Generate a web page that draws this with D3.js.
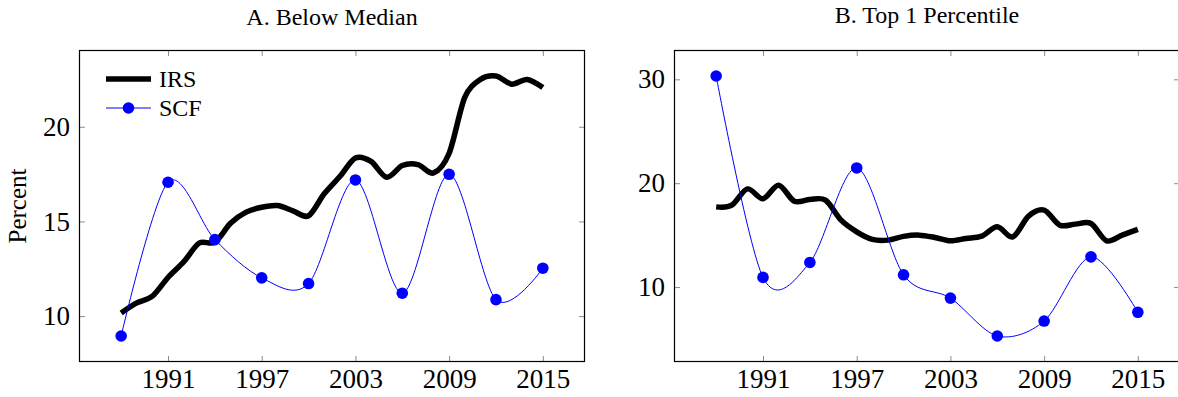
<!DOCTYPE html>
<html>
<head>
<meta charset="utf-8">
<script src="https://cdn.jsdelivr.net/npm/d3@7"></script>
<style>
  html, body { margin: 0; padding: 0; background: #fff; }
  svg { display: block; }
</style>
</head>
<body>
<svg id="chart" width="1178" height="397"></svg>
<script>
// Years covered by the IRS series (annual) and the SCF survey (triennial)
const irsYears = d3.range(1988, 2016);
const scfYears = [1988, 1991, 1994, 1997, 2000, 2003, 2006, 2009, 2012, 2015];

// Panel A: below-median share (percent)
const irsBelowMedian = [10.17, 10.7, 11.05, 12.04, 12.86, 13.86, 13.9, 14.9, 15.49, 15.75,
  15.84, 15.56, 15.3, 16.46, 17.37, 18.35, 18.17, 17.33, 17.95, 18.0,
  17.56, 18.6, 21.55, 22.5, 22.68, 22.25, 22.5, 22.07];
const scfBelowMedian = [8.95, 17.07, 14.04, 12.02, 11.72, 17.19, 11.21, 17.49, 10.87, 12.53];

// Panel B: top 1 percentile share (percent)
const irsTop1 = [17.72, 17.88, 19.45, 18.5, 19.8, 18.27, 18.43, 18.37, 16.44, 15.32,
  14.59, 14.52, 14.88, 15.0, 14.78, 14.45, 14.68, 14.9, 15.8, 14.84,
  16.83, 17.4, 15.96, 16.06, 16.12, 14.45, 15.0, 15.55];
const scfTop1 = [30.32, 10.93, 12.37, 21.47, 11.18, 8.94, 5.29, 6.73, 12.91, 7.57];

// Tick values
const xTicks = [1991, 1997, 2003, 2009, 2015];
const yTicksA = [10, 15, 20];
const yTicksB = [10, 20, 30];

const titles = ["A. Below Median", "B. Top 1 Percentile"];
const seriesNames = ["IRS", "SCF"];

const FONT = "'Liberation Serif', 'DejaVu Serif', 'Noto Serif', Tinos, 'Times New Roman', Times, serif";
const svg = d3.select("#chart");
const tickColor = "#8c8c8c";
const blue = "#0000ff";

// widen an extent by 10% of its span on each side
function enlarge(ext) {
  const pad = (ext[1] - ext[0]) * 0.1;
  return [ext[0] - pad, ext[1] + pad];
}

function drawPanel(cfg) {
  const { left, right, top, bottom, irs, scf, yTicks, title, titleY, ylabel, legend } = cfg;
  const g = svg.append("g");

  const x = d3.scaleLinear()
    .domain(enlarge(d3.extent(irsYears.concat(scfYears))))
    .range([left, right]);
  const y = d3.scaleLinear()
    .domain(enlarge(d3.extent(irs.concat(scf))))
    .range([bottom, top]);

  // Clip to plot area
  const clipId = "clip" + left;
  svg.append("clipPath").attr("id", clipId)
    .append("rect").attr("x", left).attr("y", top)
    .attr("width", right - left).attr("height", bottom - top);

  // Axes with inward ticks on all four sides
  const fontSize = 27;
  const bottomAxis = g.append("g").attr("transform", `translate(0,${bottom})`)
    .call(d3.axisBottom(x).tickValues(xTicks).tickFormat(d3.format("d")).tickSize(-6).tickPadding(7));
  const topAxis = g.append("g").attr("transform", `translate(0,${top})`)
    .call(d3.axisTop(x).tickValues(xTicks).tickFormat("").tickSize(-6));
  const leftAxis = g.append("g").attr("transform", `translate(${left},0)`)
    .call(d3.axisLeft(y).tickValues(yTicks).tickFormat(d3.format("d")).tickSize(-6).tickPadding(9));
  const rightAxis = g.append("g").attr("transform", `translate(${right},0)`)
    .call(d3.axisRight(y).tickValues(yTicks).tickFormat("").tickSize(-6));

  [bottomAxis, topAxis, leftAxis, rightAxis].forEach(a => {
    a.attr("font-family", null).style("font-family", FONT).attr("font-size", fontSize);
    a.select(".domain").remove();
    a.selectAll(".tick line").attr("stroke", tickColor).attr("stroke-width", 1);
    a.selectAll(".tick text").attr("fill", "#000").style("font-family", FONT);
  });

  // Frame
  g.append("rect")
    .attr("x", left + 0.5).attr("y", top + 0.5)
    .attr("width", right - left - 1).attr("height", bottom - top - 1)
    .attr("fill", "none").attr("stroke", "#000").attr("stroke-width", 1.2);

  const plot = g.append("g").attr("clip-path", `url(#${clipId})`);

  const curve = d3.curveCardinal.tension(0.08);

  // IRS series: thick black smooth line
  plot.append("path")
    .datum(irsYears.map((yr, i) => [yr, irs[i]]))
    .attr("fill", "none").attr("stroke", "#000").attr("stroke-width", 5.5)
    .attr("stroke-linejoin", "round")
    .attr("d", d3.line().x(d => x(d[0])).y(d => y(d[1])).curve(curve));

  // SCF series: thin blue smooth line with markers
  plot.append("path")
    .datum(scfYears.map((yr, i) => [yr, scf[i]]))
    .attr("fill", "none").attr("stroke", blue).attr("stroke-width", 1)
    .attr("d", d3.line().x(d => x(d[0])).y(d => y(d[1])).curve(curve));

  plot.selectAll("circle.scf")
    .data(scfYears.map((yr, i) => [yr, scf[i]]))
    .join("circle").attr("class", "scf")
    .attr("cx", d => x(d[0])).attr("cy", d => y(d[1]))
    .attr("r", 5.8).attr("fill", blue);

  // Title
  svg.append("text")
    .attr("x", (left + right) / 2).attr("y", titleY)
    .attr("text-anchor", "middle").style("font-family", FONT).attr("font-size", 24)
    .text(title);

  if (ylabel) {
    svg.append("text")
      .attr("transform", `translate(${left - 53},${(top + bottom) / 2}) rotate(-90)`)
      .attr("text-anchor", "middle").style("font-family", FONT).attr("font-size", 25)
      .text(ylabel);
  }

  if (legend) {
    const lx = left + 27, ly = top + 29;
    const lg = g.append("g").style("font-family", FONT).attr("font-size", 24);
    lg.append("line").attr("x1", lx).attr("x2", lx + 45)
      .attr("y1", ly).attr("y2", ly).attr("stroke", "#000").attr("stroke-width", 5.5);
    lg.append("text").attr("x", lx + 53).attr("y", ly + 8).text(seriesNames[0]);
    lg.append("line").attr("x1", lx).attr("x2", lx + 45)
      .attr("y1", ly + 29).attr("y2", ly + 29).attr("stroke", blue).attr("stroke-width", 1);
    lg.append("circle").attr("cx", lx + 22.5).attr("cy", ly + 29).attr("r", 5.8).attr("fill", blue);
    lg.append("text").attr("x", lx + 53).attr("y", ly + 37).text(seriesNames[1]);
  }
}

drawPanel({
  left: 79, right: 585, top: 50, bottom: 362,
  irs: irsBelowMedian, scf: scfBelowMedian, yTicks: yTicksA,
  title: titles[0], titleY: 25, ylabel: "Percent", legend: true
});

drawPanel({
  left: 674, right: 1180, top: 50, bottom: 362,
  irs: irsTop1, scf: scfTop1, yTicks: yTicksB,
  title: titles[1], titleY: 23, ylabel: null, legend: false
});
</script>
</body>
</html>
